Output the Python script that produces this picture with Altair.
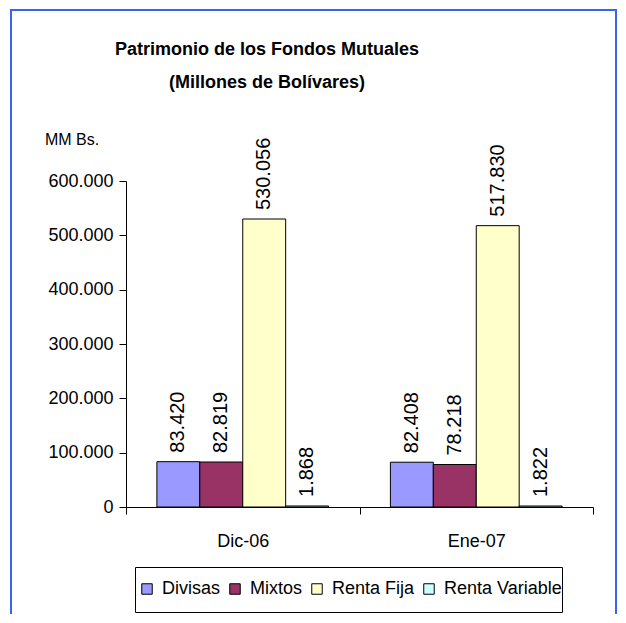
import altair as alt
import pandas as pd

periodos = ["Dic-06", "Ene-07"]
series = ["Divisas", "Mixtos", "Renta Fija", "Renta Variable"]
divisas = [83420, 82408]
mixtos = [82819, 78218]
renta_fija = [530056, 517830]
renta_variable = [1868, 1822]
colores = ["#9999FF", "#993366", "#FFFFCC", "#CCFFFF"]
titulo_1 = "Patrimonio de los Fondos Mutuales"
titulo_2 = "(Millones de Bolívares)"
unidad = "MM Bs."
y_ticks = [0, 100000, 200000, 300000, 400000, 500000, 600000]

valores = {"Divisas": divisas, "Mixtos": mixtos, "Renta Fija": renta_fija,
           "Renta Variable": renta_variable}
rows = []
for s in series:
    for p, v in zip(periodos, valores[s]):
        rows.append({"Periodo": p, "Serie": s, "Valor": v,
                     "Etiqueta": f"{v:,}".replace(",", ".")})
df = pd.DataFrame(rows)
one = pd.DataFrame({"k": [0]})

W, H = 467, 326
SANS = "Liberation Sans, Arial"

x = alt.X("Periodo:N", sort=periodos,
          scale=alt.Scale(paddingInner=0, paddingOuter=0),
          axis=alt.Axis(title=None, labelAngle=0, tickBand="extent", tickSize=7,
                        labelPadding=18, domainColor="black", tickColor="black",
                        labelFontSize=18, labelFont=SANS, labelColor="black"))
xo = alt.XOffset("Serie:N", sort=series,
                 scale=alt.Scale(paddingInner=0, paddingOuter=0.72))
y = alt.Y("Valor:Q", scale=alt.Scale(domain=[0, 600000], nice=False),
          axis=alt.Axis(title=None, values=y_ticks, grid=False, tickSize=7,
                        labelPadding=6, domainColor="black", tickColor="black",
                        labelFontSize=18, labelFont=SANS, labelColor="black",
                        labelExpr="replace(format(datum.value, ','), ',', '.')"))

frame = alt.Chart(one).mark_rect(filled=False, stroke="#3A63F0", strokeWidth=2).encode(
    x=alt.value(-115), x2=alt.value(490), y=alt.value(-171), y2=alt.value(H + 130))

legend_box = alt.Chart(one).mark_rect(fill="white", stroke="black", strokeWidth=1).encode(
    x=alt.value(9.5), x2=alt.value(436.5), y=alt.value(386.5), y2=alt.value(431.5))

bars = alt.Chart(df).mark_bar(stroke="black", strokeWidth=1).encode(
    x=x, xOffset=xo, y=y,
    color=alt.Color("Serie:N", sort=series,
                    scale=alt.Scale(domain=series, range=colores),
                    legend=alt.Legend(title=None, orient="none", legendX=12, legendY=399,
                                      direction="horizontal", symbolType="square",
                                      symbolSize=110, symbolStrokeColor="black",
                                      symbolStrokeWidth=1, labelFontSize=18,
                                      labelFont=SANS, labelColor="black",
                                      labelOffset=6, columnPadding=5, padding=0)))

labels = alt.Chart(df).mark_text(angle=270, align="left", baseline="middle", dx=9,
                                 fontSize=20, font=SANS, color="black").encode(
    x=x, xOffset=xo, y=y, text="Etiqueta:N")

t1 = alt.Chart(one).mark_text(fontSize=18, font=SANS, fontWeight="bold", color="black",
                              align="center", baseline="alphabetic").encode(
    x=alt.value(141), y=alt.value(-126), text=alt.value(titulo_1))
t2 = alt.Chart(one).mark_text(fontSize=18, font=SANS, fontWeight="bold", color="black",
                              align="center", baseline="alphabetic").encode(
    x=alt.value(141), y=alt.value(-93), text=alt.value(titulo_2))
tu = alt.Chart(one).mark_text(fontSize=16, font=SANS, color="black",
                              align="center", baseline="alphabetic").encode(
    x=alt.value(-54), y=alt.value(-36), text=alt.value(unidad))

chart = alt.layer(frame, legend_box, bars, labels, t1, t2, tu).properties(
    width=W, height=H,
    autosize=alt.AutoSizeParams(type="none"),
    padding={"left": 118, "top": 173, "right": 25, "bottom": 107},
    background="white",
).configure_view(stroke=None)

chart.save("out.html", embed_options={"renderer": "svg", "actions": False})
